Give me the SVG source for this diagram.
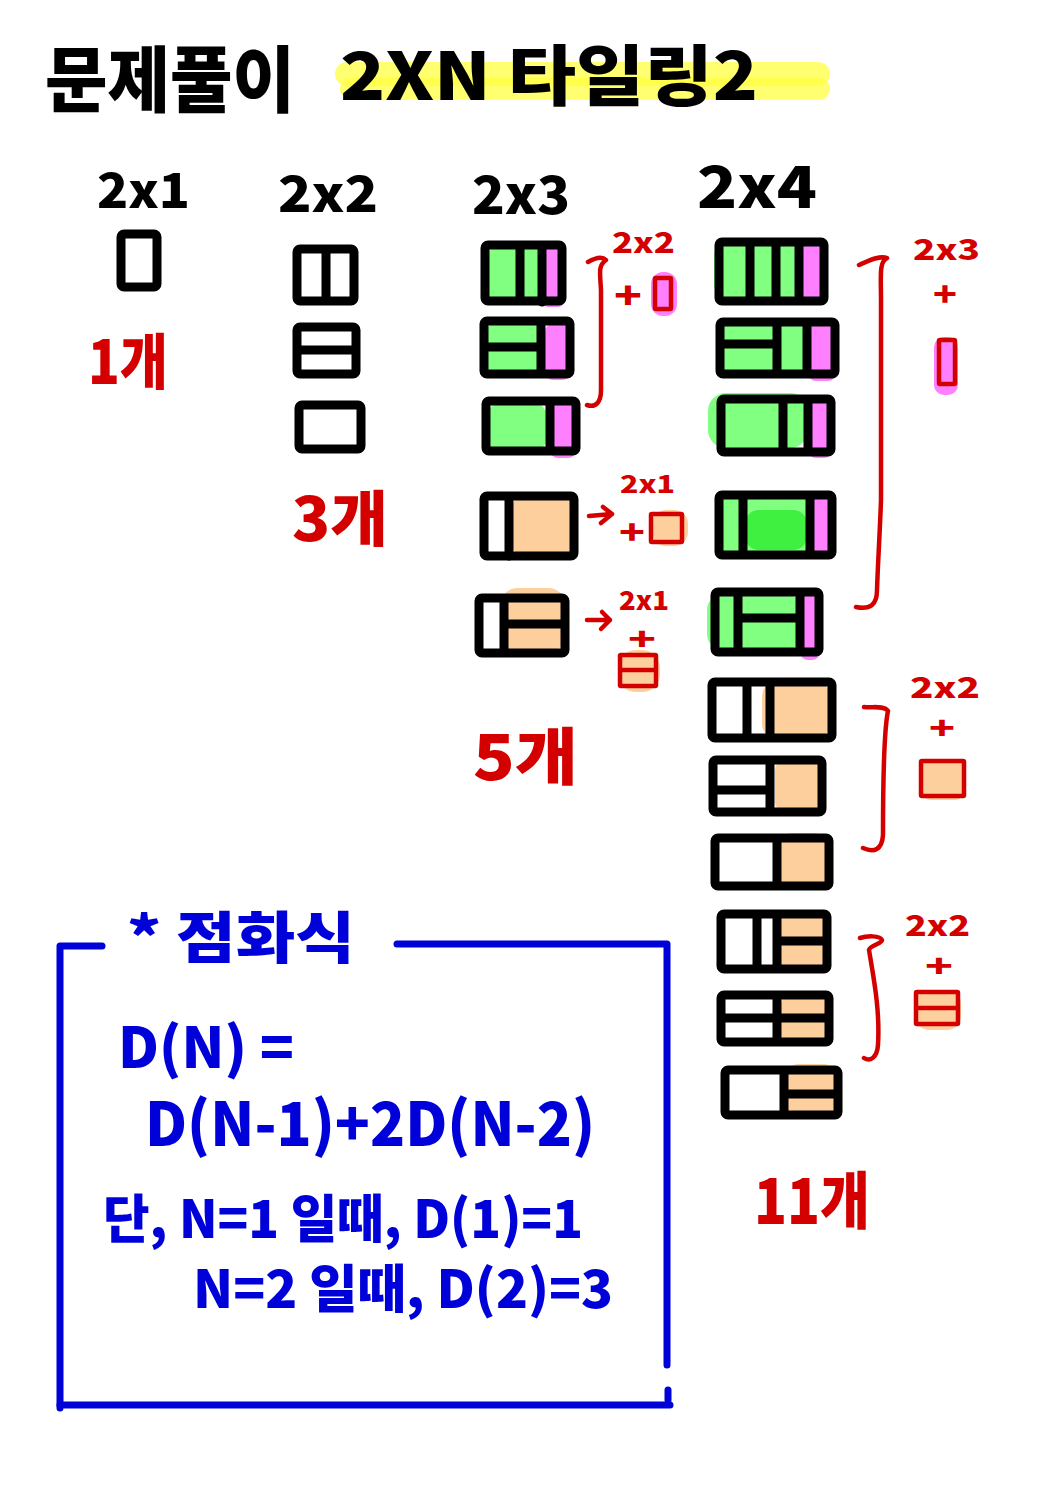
<svg xmlns="http://www.w3.org/2000/svg" width="1054" height="1491" viewBox="0 0 1054 1491">
<style>
.bk{font-family:"Noto Sans CJK KR","Noto Sans",sans-serif;font-weight:900;fill:#000}
.rd{font-family:"Noto Sans CJK KR","Noto Sans",sans-serif;font-weight:900;fill:#d40000}
.bl{font-family:"Noto Sans CJK KR","Noto Sans",sans-serif;font-weight:900;fill:#0000d8}
.t{fill:none;stroke:#000;stroke-width:9;stroke-linejoin:round;stroke-linecap:round}
.rs{fill:none;stroke:#d40000;stroke-width:4.5;stroke-linejoin:round;stroke-linecap:round}
.g{fill:#80ff80}
.g2{fill:#40f040}
.p{fill:#ff80ff}
.o{fill:#fccf9c}
.bx{fill:none;stroke:#0000d8;stroke-width:7;stroke-linecap:round;stroke-linejoin:round}
</style>
<rect width="1054" height="1491" fill="#fff"/>

<g id="title">
<rect x="335" y="62" width="495" height="24" rx="12" fill="#ffff40" opacity="0.75"/>
<rect x="340" y="78" width="490" height="22" rx="11" fill="#ffff40" opacity="0.75"/>
<text class="bk" x="45" y="106" font-size="72" textLength="250" lengthAdjust="spacingAndGlyphs">문제풀이</text>
<text class="bk" x="340" y="100" font-size="66" textLength="418" lengthAdjust="spacingAndGlyphs">2XN 타일링2</text>
</g>

<g id="col-2x1">
<text class="bk" x="97" y="208" font-size="48" textLength="93" lengthAdjust="spacingAndGlyphs">2x1</text>
<rect class="t" x="121" y="234" width="36" height="53" rx="3"/>
<text class="rd" x="88" y="384" font-size="60" textLength="80" lengthAdjust="spacingAndGlyphs">1개</text>
</g>

<g id="col-2x2">
<text class="bk" x="278" y="212" font-size="50" textLength="100" lengthAdjust="spacingAndGlyphs">2x2</text>
<rect class="t" x="297" y="249" width="57" height="52" rx="3"/>
<path class="t" d="M326,250 V300"/>
<rect class="t" x="297" y="327" width="59" height="47" rx="3"/>
<path class="t" d="M298,350 H355"/>
<rect class="t" x="299" y="405" width="62" height="44" rx="3"/>
<text class="rd" x="292" y="541" font-size="60" textLength="96" lengthAdjust="spacingAndGlyphs">3개</text>
</g>

<g id="col-2x3">
<text class="bk" x="472" y="214" font-size="52" textLength="98" lengthAdjust="spacingAndGlyphs">2x3</text>
<g id="t3-1">
<rect class="g" x="488" y="246" width="52" height="56" rx="10"/>
<rect class="p" x="542" y="247" width="22" height="60" rx="6"/>
<rect class="t" x="485" y="245" width="77" height="56" rx="3"/>
<path class="t" d="M520,246 V300 M542,246 V302"/>
</g>
<g id="t3-2">
<rect class="g" x="486" y="322" width="55" height="52" rx="12"/>
<rect class="p" x="545" y="324" width="25" height="56" rx="8"/>
<rect class="t" x="484" y="321" width="86" height="53" rx="3"/>
<path class="t" d="M485,347 H540 M541,322 V373"/>
</g>
<g id="t3-3">
<rect class="g" x="487" y="403" width="60" height="48" rx="14"/>
<rect class="p" x="550" y="402" width="26" height="56" rx="8"/>
<rect class="t" x="486" y="401" width="90" height="50" rx="3"/>
<path class="t" d="M550,402 V450"/>
</g>
<g id="t3-4">
<rect class="o" x="512" y="495" width="62" height="62" rx="14"/>
<rect class="t" x="484" y="496" width="90" height="60" rx="3"/>
<path class="t" d="M509,497 V556"/>
</g>
<g id="t3-5">
<rect class="o" x="500" y="588" width="66" height="64" rx="18"/>
<rect class="t" x="479" y="598" width="86" height="55" rx="3"/>
<path class="t" d="M504,599 V652 M505,624 H564"/>
</g>
<text class="rd" x="473" y="780" font-size="62" textLength="105" lengthAdjust="spacingAndGlyphs">5개</text>
</g>

<g id="col-2x4">
<text class="bk" x="697" y="208" font-size="58" textLength="120" lengthAdjust="spacingAndGlyphs">2x4</text>
<g id="t4-1">
<rect class="g" x="714" y="240" width="86" height="60" rx="16"/>
<rect class="p" x="798" y="244" width="25" height="58" rx="6"/>
<rect class="t" x="719" y="242" width="105" height="59" rx="3"/>
<path class="t" d="M750,243 V300 M776,243 V300 M799,243 V300"/>
</g>
<g id="t4-2">
<rect class="g" x="716" y="322" width="90" height="54" rx="14"/>
<rect class="p" x="808" y="325" width="28" height="56" rx="8"/>
<rect class="t" x="720" y="322" width="115" height="52" rx="3"/>
<path class="t" d="M721,344 H776 M777,323 V373 M807,323 V373"/>
</g>
<g id="t4-3">
<rect class="g" x="708" y="393" width="100" height="55" rx="18"/>
<rect class="p" x="808" y="400" width="24" height="58" rx="8"/>
<rect class="t" x="721" y="399" width="110" height="53" rx="3"/>
<path class="t" d="M783,400 V450 M808,400 V450"/>
</g>
<g id="t4-4">
<rect class="g" x="720" y="495" width="92" height="60" rx="8"/>
<rect class="g2" x="745" y="510" width="62" height="40" rx="14"/>
<rect class="p" x="810" y="496" width="22" height="60" rx="6"/>
<rect class="t" x="719" y="495" width="113" height="60" rx="3"/>
<path class="t" d="M743,496 V554 M810,496 V554"/>
</g>
<g id="t4-5">
<rect class="g" x="707" y="594" width="95" height="56" rx="16"/>
<rect class="p" x="800" y="592" width="20" height="68" rx="8"/>
<rect class="t" x="715" y="592" width="104" height="60" rx="3"/>
<path class="t" d="M738,593 V651 M800,593 V651 M739,618 H799"/>
</g>
<g id="t4-6">
<rect class="o" x="762" y="682" width="68" height="56" rx="14"/>
<rect class="t" x="712" y="682" width="120" height="56" rx="3"/>
<path class="t" d="M747,683 V737 M770,683 V737"/>
</g>
<g id="t4-7">
<rect class="o" x="775" y="760" width="47" height="52" rx="10"/>
<rect class="t" x="713" y="760" width="109" height="52" rx="3"/>
<path class="t" d="M714,790 H769 M770,761 V811"/>
</g>
<g id="t4-8">
<rect class="o" x="778" y="833" width="50" height="54" rx="14"/>
<rect class="t" x="715" y="838" width="114" height="48" rx="3"/>
<path class="t" d="M777,839 V885"/>
</g>
<g id="t4-9">
<rect class="o" x="778" y="913" width="48" height="58" rx="14"/>
<rect class="t" x="721" y="914" width="106" height="55" rx="3"/>
<path class="t" d="M757,915 V968 M777,915 V968 M778,941 H826"/>
</g>
<g id="t4-10">
<rect class="o" x="780" y="994" width="48" height="50" rx="14"/>
<rect class="t" x="721" y="995" width="108" height="47" rx="3"/>
<path class="t" d="M722,1018 H828 M777,996 V1041"/>
</g>
<g id="t4-11">
<rect class="o" x="785" y="1064" width="52" height="52" rx="14"/>
<rect class="t" x="725" y="1070" width="113" height="45" rx="3"/>
<path class="t" d="M784,1071 V1114 M785,1094 H837"/>
</g>
<text class="rd" x="754" y="1224" font-size="62" textLength="116" lengthAdjust="spacingAndGlyphs">11개</text>
</g>

<g id="note-2x3-a">
<text class="rd" x="612" y="253" font-size="28" textLength="63" lengthAdjust="spacingAndGlyphs">2x2</text>
<text class="rd" x="614" y="309" font-size="36" textLength="28" lengthAdjust="spacingAndGlyphs">+</text>
<rect class="p" x="651" y="272" width="26" height="44" rx="12"/>
<rect class="rs" x="655" y="278" width="16" height="31" rx="1"/>
</g>
<g id="note-2x3-b">
<text class="rd" x="620" y="493" font-size="24" textLength="55" lengthAdjust="spacingAndGlyphs">2x1</text>
<text class="rd" x="619" y="544" font-size="32" textLength="26" lengthAdjust="spacingAndGlyphs">+</text>
<rect class="o" x="652" y="510" width="36" height="36" rx="14"/>
<rect class="rs" x="651" y="514" width="31" height="28" rx="1"/>
</g>
<g id="note-2x3-c">
<text class="rd" x="619" y="610" font-size="26" textLength="50" lengthAdjust="spacingAndGlyphs">2x1</text>
<text class="rd" x="628" y="650" font-size="30" textLength="28" lengthAdjust="spacingAndGlyphs">+</text>
<rect class="o" x="618" y="650" width="42" height="42" rx="18"/>
<rect class="rs" x="620" y="655" width="36" height="31" rx="1"/>
<path class="rs" d="M621,670 H655"/>
</g>
<g id="note-2x4-a">
<text class="rd" x="913" y="260" font-size="28" textLength="67" lengthAdjust="spacingAndGlyphs">2x3</text>
<text class="rd" x="933" y="306" font-size="32" textLength="24" lengthAdjust="spacingAndGlyphs">+</text>
<rect class="p" x="934" y="337" width="24" height="58" rx="10"/>
<rect class="rs" x="939" y="340" width="16" height="44" rx="1"/>
</g>
<g id="note-2x4-b">
<text class="rd" x="910" y="698" font-size="28" textLength="70" lengthAdjust="spacingAndGlyphs">2x2</text>
<text class="rd" x="929" y="739" font-size="30" textLength="26" lengthAdjust="spacingAndGlyphs">+</text>
<rect class="o" x="920" y="760" width="46" height="40" rx="12"/>
<rect class="rs" x="921" y="761" width="43" height="35" rx="1"/>
</g>
<g id="note-2x4-c">
<text class="rd" x="905" y="936" font-size="28" textLength="65" lengthAdjust="spacingAndGlyphs">2x2</text>
<text class="rd" x="925" y="977" font-size="30" textLength="28" lengthAdjust="spacingAndGlyphs">+</text>
<rect class="o" x="915" y="990" width="46" height="40" rx="14"/>
<rect class="rs" x="916" y="992" width="42" height="32" rx="1"/>
<path class="rs" d="M917,1008 H957"/>
</g>

<g id="connectors">
<path class="rs" d="M588,262 C595,258 602,256 606,260 C598,266 600,272 601,290 V390 C601,402 596,408 587,405"/>
<path class="rs" d="M589,516 L612,514 M603,507 L612,514 L601,523"/>
<path class="rs" d="M587,620 L610,620 M602,612 L610,620 L601,629"/>
<path class="rs" d="M859,265 C868,261 880,255 887,258 C879,262 881,275 881,300 V500 C880,530 878,560 877,590 C877,605 870,610 856,607"/>
<path class="rs" d="M864,707 C872,708 884,705 888,711 C884,730 883,780 883,835 C882,850 874,853 863,848"/>
<path class="rs" d="M860,938 C866,936 880,935 882,940 C882,944 870,945 869,950 C874,980 880,1010 878,1045 C877,1058 870,1062 864,1058"/>
</g>

<g id="formula-box">
<path class="bx" d="M60,1408 V946 H102"/>
<path class="bx" d="M397,944 H667 V1365"/>
<path class="bx" d="M60,1405 H670 M668,1390 V1400"/>
<text class="bl" x="127" y="958" font-size="56" textLength="228" lengthAdjust="spacingAndGlyphs">* 점화식</text>
<text class="bl" x="118" y="1068" font-size="56" textLength="176" lengthAdjust="spacingAndGlyphs">D(N) =</text>
<text class="bl" x="145" y="1146" font-size="60" textLength="450" lengthAdjust="spacingAndGlyphs">D(N-1)+2D(N-2)</text>
<text class="bl" x="103" y="1238" font-size="52" textLength="480" lengthAdjust="spacingAndGlyphs">단, N=1 일때, D(1)=1</text>
<text class="bl" x="193" y="1308" font-size="52" textLength="420" lengthAdjust="spacingAndGlyphs">N=2 일때, D(2)=3</text>
</g>
</svg>
